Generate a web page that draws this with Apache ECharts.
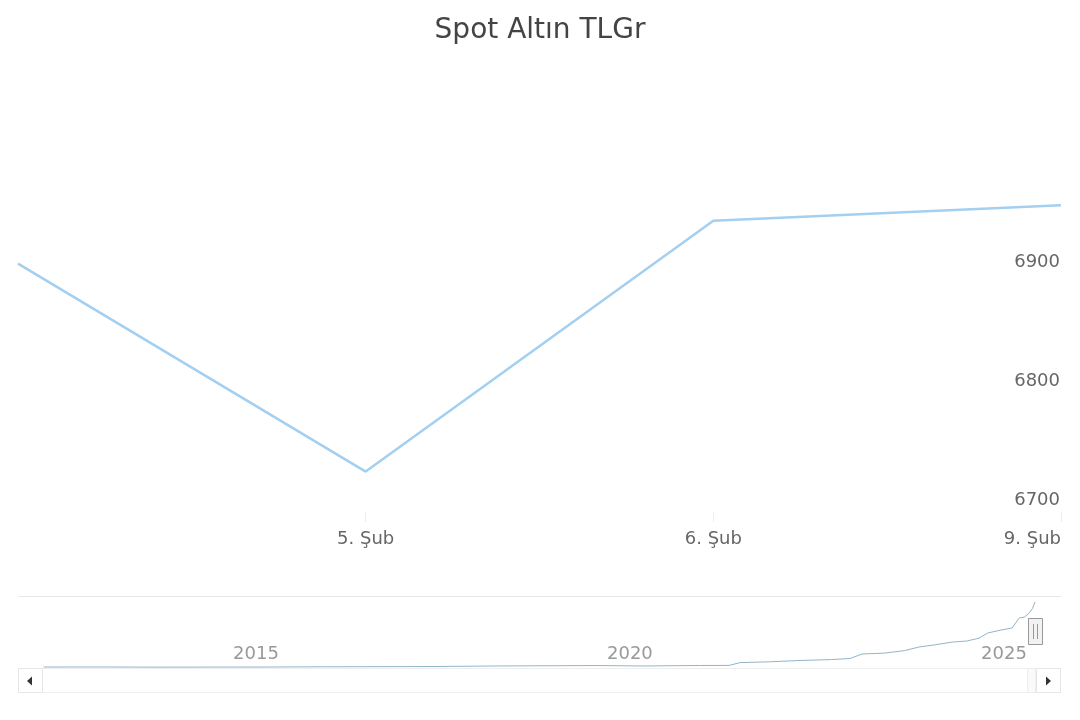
<!DOCTYPE html>
<html>
<head>
<meta charset="utf-8">
<script src="https://cdn.jsdelivr.net/npm/echarts@6/dist/echarts.min.js"></script>
<style>
  html, body { margin: 0; padding: 0; background: #ffffff; }
  #chart { width: 1080px; height: 720px; }
</style>
</head>
<body>
<div id="chart"></div>
<script>
// ---- data ----
const chartTitle = 'Spot Altın TLGr';
const categories = ['4. Şub', '5. Şub', '6. Şub', '9. Şub'];
const prices = [6899, 6724, 6935, 6948];
const yTickValues = [6700, 6800, 6900];

const navDates = [
  '2012-07-04', '2013-04-01', '2014-01-02', '2014-10-01', '2015-07-01',
  '2016-04-01', '2017-01-02', '2017-10-02', '2018-08-15', '2019-05-02',
  '2019-12-02', '2020-07-08', '2021-04-12', '2021-09-02', '2021-10-27',
  '2022-03-15', '2022-08-15', '2023-01-16', '2023-04-17', '2023-06-14',
  '2023-10-02', '2024-01-08', '2024-03-18', '2024-06-03', '2024-09-02',
  '2024-11-06', '2025-01-06', '2025-02-17', '2025-04-23', '2025-06-16',
  '2025-07-21', '2025-08-15', '2025-09-08', '2025-09-24', '2025-10-06'
];
const navValues = [
  95, 100, 85, 90, 95,
  120, 130, 145, 200, 220,
  240, 195, 245, 250, 525,
  600, 730, 820, 925, 1360,
  1450, 1690, 2040, 2250, 2530,
  2620, 2900, 3400, 3690, 3890,
  4860, 4950, 5350, 5800, 6420
];
const navYearTicks = ['2015-01-01', '2020-01-01', '2025-01-01'];
const navMin = '2012-03-01';
const navMax = '2026-02-10';

// ---- chart ----
const toMs = s => Date.UTC(+s.slice(0, 4), +s.slice(5, 7) - 1, +s.slice(8, 10));
const FONT = 'DejaVu Sans';
const chart = echarts.init(document.getElementById('chart'), null, { renderer: 'canvas' });

const option = {
  backgroundColor: '#ffffff',
  animation: false,
  title: {
    text: chartTitle,
    left: 'center',
    top: 17,
    padding: 0,
    textStyle: { fontFamily: FONT, fontSize: 28, fontWeight: 'normal', color: '#444444' }
  },
  grid: [
    { left: 18, right: 19, top: 96, height: 416 },
    { left: 18, right: 19, top: 596, height: 72 }
  ],
  xAxis: [
    {
      type: 'category',
      gridIndex: 0,
      data: categories,
      boundaryGap: false,
      axisLine: { show: false },
      axisTick: {
        show: true, length: 10,
        interval: (i) => i !== 0,
        lineStyle: { color: '#eeeeee' }
      },
      axisLabel: {
        interval: (i) => i !== 0,
        alignMaxLabel: 'right',
        margin: 18,
        fontFamily: FONT, fontSize: 18, color: '#666666'
      },
      splitLine: { show: false }
    },
    {
      type: 'value',
      gridIndex: 1,
      min: toMs(navMin),
      max: toMs(navMax),
      axisLine: { show: false },
      axisTick: { show: false },
      splitLine: { show: false },
      axisLabel: {
        inside: true,
        customValues: navYearTicks.map(toMs),
        formatter: (v) => String(new Date(v).getUTCFullYear()),
        align: 'left',
        padding: [0, 0, 0, 3],
        margin: 5,
        fontFamily: FONT, fontSize: 18, color: '#999999'
      }
    }
  ],
  yAxis: [
    {
      type: 'value',
      gridIndex: 0,
      position: 'right',
      min: 6690,
      max: 7040,
      axisLine: { show: false },
      axisTick: { show: false },
      splitLine: { show: false },
      axisLabel: {
        inside: true,
        customValues: yTickValues,
        formatter: (v) => String(v),
        margin: 1,
        fontFamily: FONT, fontSize: 18, color: '#666666'
      }
    },
    {
      type: 'value',
      gridIndex: 1,
      min: 0,
      max: 7000,
      interval: 7000,
      axisLine: { show: false },
      axisTick: { show: false },
      axisLabel: { show: false },
      splitLine: { show: true, lineStyle: { color: '#e8e8e8', width: 1 } }
    }
  ],
  series: [
    {
      type: 'line',
      xAxisIndex: 0,
      yAxisIndex: 0,
      data: prices,
      symbol: 'none',
      lineStyle: { color: '#a3cff0', width: 2.5 },
      z: 3
    },
    {
      type: 'line',
      xAxisIndex: 1,
      yAxisIndex: 1,
      data: navDates.map((d, i) => [toMs(d), navValues[i]]),
      symbol: 'none',
      lineStyle: { color: '#92b4c8', width: 1 },
      z: 3
    }
  ],
  graphic: [
    { type: 'rect', z: 1, shape: { x: 18.5, y: 668.5, width: 1042, height: 24 },
      style: { fill: '#ffffff', stroke: '#eeeeee', lineWidth: 1 } },
    { type: 'rect', z: 1, shape: { x: 1027.5, y: 668.5, width: 8, height: 24 },
      style: { fill: '#fafafa', stroke: '#eeeeee', lineWidth: 1 } },
    { type: 'rect', z: 1, shape: { x: 18.5, y: 668.5, width: 24, height: 24 },
      style: { fill: '#ffffff', stroke: '#e6e6e6', lineWidth: 1 } },
    { type: 'polygon', z: 1, shape: { points: [[27, 681], [32, 676.5], [32, 685.5]] },
      style: { fill: '#333333' } },
    { type: 'rect', z: 1, shape: { x: 1036.5, y: 668.5, width: 24, height: 24 },
      style: { fill: '#ffffff', stroke: '#e6e6e6', lineWidth: 1 } },
    { type: 'polygon', z: 1, shape: { points: [[1046, 676.5], [1051, 681], [1046, 685.5]] },
      style: { fill: '#333333' } },
    { type: 'rect', z: 5, shape: { x: 1028.5, y: 618.5, width: 14, height: 26 },
      style: { fill: '#f2f2f2', stroke: '#999999', lineWidth: 1 } },
    { type: 'line', z: 5, shape: { x1: 1033.5, y1: 624, x2: 1033.5, y2: 639 },
      style: { stroke: '#999999', lineWidth: 1 } },
    { type: 'line', z: 5, shape: { x1: 1037.5, y1: 624, x2: 1037.5, y2: 639 },
      style: { stroke: '#999999', lineWidth: 1 } }
  ]
};

chart.setOption(option);
</script>
</body>
</html>
